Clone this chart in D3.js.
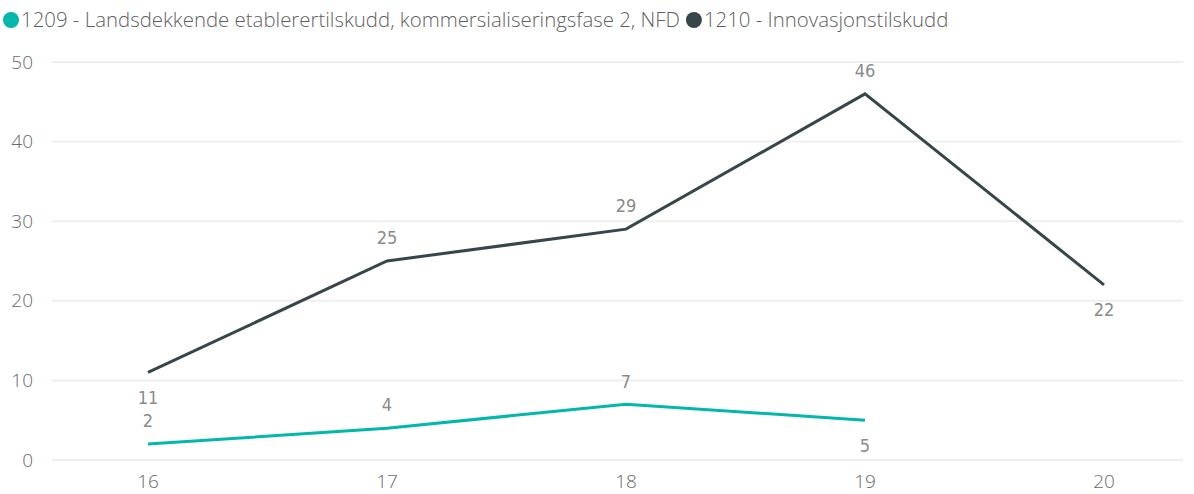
<!DOCTYPE html>
<html><head><meta charset="utf-8">
<script src="https://cdn.jsdelivr.net/npm/d3@7"></script>
<style>body{margin:0;background:#fff}svg{display:block}</style>
</head><body>
<svg id="c" width="1194" height="494"></svg>
<script>
const categories = ["16","17","18","19","20"];
const seriesNames = ["1209 - Landsdekkende etablerertilskudd, kommersialiseringsfase 2, NFD","1210 - Innovasjonstilskudd"];
const values1209 = [2,4,7,5,null];
const values1210 = [11,25,29,46,22];
const labelPos1209 = ["above","above","above","below",null];
const labelPos1210 = ["below","above","above","above","below"];
const yTicks = [0,10,20,30,40,50];
const colors = ["#01B8AA","#374649"];

const svg = d3.select("#c");
const font = "'Segoe UI','Open Sans',sans-serif";
const x = d3.scalePoint().domain(categories).range([148,1104]);
const y = d3.scaleLinear().domain([0,50]).range([460,62]);

// grid
svg.append("g").selectAll("line").data(yTicks).join("line")
  .attr("x1",52).attr("x2",1183).attr("y1",d=>y(d)).attr("y2",d=>y(d))
  .attr("stroke","#efefef").attr("stroke-width",2);
svg.append("g").selectAll("text").data(yTicks).join("text")
  .attr("x",33).attr("y",d=>y(d)).attr("dy","0.35em").attr("text-anchor","end")
  .attr("font-family",font).attr("font-weight",300).attr("font-size",19).attr("fill","#6a6a6a").text(d=>d);
svg.append("g").selectAll("text").data(categories).join("text")
  .attr("x",d=>x(d)).attr("y",481).attr("dy","0.35em").attr("text-anchor","middle")
  .attr("font-family",font).attr("font-weight",300).attr("font-size",19).attr("fill","#6a6a6a").text(d=>d);

const line = d3.line().defined(d=>d.v!=null).x(d=>x(d.c)).y(d=>y(d.v));
const series = [
  {vals:values1209,pos:labelPos1209,color:colors[0]},
  {vals:values1210,pos:labelPos1210,color:colors[1]}
];
series.forEach(s=>{
  const data = categories.map((c,i)=>({c,v:s.vals[i],p:s.pos[i]}));
  svg.append("path").datum(data).attr("d",line).attr("fill","none")
    .attr("stroke",s.color).attr("stroke-width",3).attr("stroke-linejoin","miter");
  svg.append("g").selectAll("text").data(data.filter(d=>d.v!=null)).join("text")
    .attr("x",d=>x(d.c)).attr("y",d=>y(d.v)+(d.p==="above"?-23:25)).attr("dy","0.35em")
    .attr("text-anchor","middle").attr("font-family","'DejaVu Sans Condensed','DejaVu Sans',sans-serif")
    .attr("font-size",18).attr("fill","#8a8a8a").text(d=>d.v);
});

// legend
const lg = svg.append("g");
let lx = 11;
seriesNames.forEach((n,i)=>{
  lg.append("circle").attr("cx",lx).attr("cy",20).attr("r",8).attr("fill",colors[i]);
  const t = lg.append("text").attr("x",lx+10).attr("y",20).attr("dy","0.35em")
    .attr("font-family",font).attr("font-weight",300).attr("font-size",20.4).attr("fill","#5f5f5f").text(n);
  lx += 10 + t.node().getComputedTextLength() + 14;
});
</script>
</body></html>
